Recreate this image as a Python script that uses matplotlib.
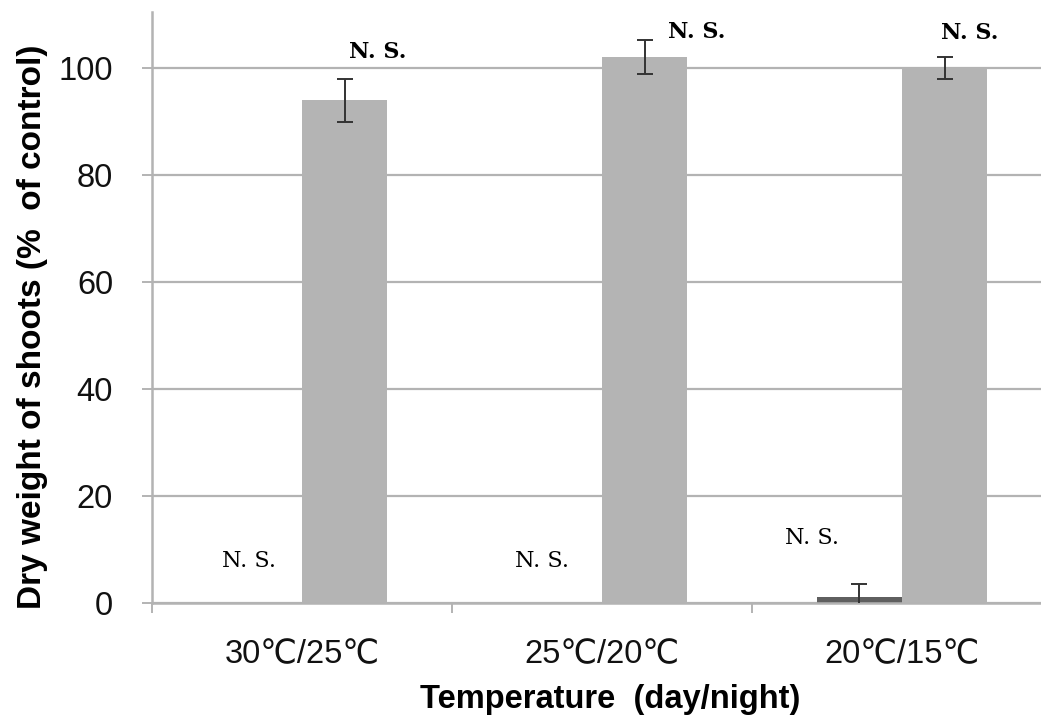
import matplotlib
matplotlib.use("Agg")
import matplotlib.pyplot as plt
import numpy as np

# Data
categories = ["30℃/25℃", "25℃/20℃", "20℃/15℃"]
dark_values = [0.0, 0.0, 1.2]
dark_errors = [0.0, 0.0, 2.3]
light_values = [94.0, 102.0, 100.0]
light_errors = [4.0, 3.2, 2.1]
dark_notes = ["N. S.", "N. S.", "N. S."]
light_notes = ["N. S.", "N. S.", "N. S."]
y_ticks = [0, 20, 40, 60, 80, 100]

W, H = 1041, 715
fig = plt.figure(figsize=(W / 100, H / 100), dpi=100)

# Axes in pixel terms: left spine at x=152, zero line at y=603, one group = 300 px
left_px, zero_px, group_px, unit_px = 152, 603, 300, 5.35
ymax = 110.5
ax = fig.add_axes([left_px / W, (H - zero_px) / H,
                   3 * group_px / W, ymax * unit_px / H])

x = np.arange(len(categories))
bw = 0.284
dark_col = "#5f5f5f"
light_col = "#b4b4b4"
err_col = "#333333"

ax.bar(x - bw / 2, dark_values, bw, color=dark_col, zorder=2)
ax.bar(x + bw / 2, light_values, bw, color=light_col, zorder=2)

for xs, vals, errs in ((x - bw / 2, dark_values, dark_errors),
                       (x + bw / 2, light_values, light_errors)):
    for xi, v, e in zip(xs, vals, errs):
        if v > 0:
            ax.errorbar(xi, v, yerr=e, fmt="none", ecolor=err_col,
                        elinewidth=1.4, capsize=6, capthick=1.4, zorder=3)

ax.set_xlim(-0.5, 2.5)
ax.set_ylim(0, ymax)
ax.set_yticks(y_ticks)
ax.set_xticks(x)
ax.set_xticklabels(categories)
ax.set_xticks([-0.5, 0.5, 1.5, 2.5], minor=True)

grid_col = "#b3b3b3"
ax.yaxis.grid(True, color=grid_col, linewidth=1.6, zorder=0)
ax.set_axisbelow(True)
for s in ("top", "right"):
    ax.spines[s].set_visible(False)
for s in ("left", "bottom"):
    ax.spines[s].set_color(grid_col)
    ax.spines[s].set_linewidth(1.8)

ax.tick_params(axis="y", direction="out", length=7, width=1.4, color=grid_col,
               labelsize=23.5, pad=21, labelcolor="#111111")
ax.tick_params(axis="x", which="major", length=0, labelsize=23.5, pad=26,
               labelcolor="#111111")
ax.tick_params(axis="x", which="minor", direction="out", length=7, width=1.4,
               color=grid_col)
for lab in ax.get_xticklabels():
    lab.set_family(["Liberation Sans", "DejaVu Sans"])
for lab in ax.get_yticklabels():
    lab.set_family("Liberation Sans")

ax.set_ylabel("Dry weight of shoots (%  of control)", fontsize=24,
              fontweight="bold", family="Liberation Sans")
ax.yaxis.set_label_coords(-0.1156, 0.468)
ax.set_xlabel("Temperature  (day/night)", fontsize=23.5, fontweight="bold",
              family="Liberation Sans")
ax.xaxis.set_label_coords(0.509, -0.1376)

# Significance notes
serif = "DejaVu Serif"
light_note_dx = [0.253, 0.317, 0.227]
light_note_gap = [5.0, 1.5, 4.5]
for i, t in enumerate(light_notes):
    ax.text(x[i] + light_note_dx[i], light_values[i] + light_errors[i] + light_note_gap[i],
            t, ha="center", va="center", fontsize=16, fontweight="bold",
            family=serif, clip_on=False)
dark_note_dx = [-0.178, -0.2, -0.3]
dark_note_y = [7.85, 7.85, 12.1]
for i, t in enumerate(dark_notes):
    ax.text(x[i] + dark_note_dx[i], dark_note_y[i], t, ha="center", va="center",
            fontsize=16, family=serif)

fig.savefig("out.png", dpi=100)
